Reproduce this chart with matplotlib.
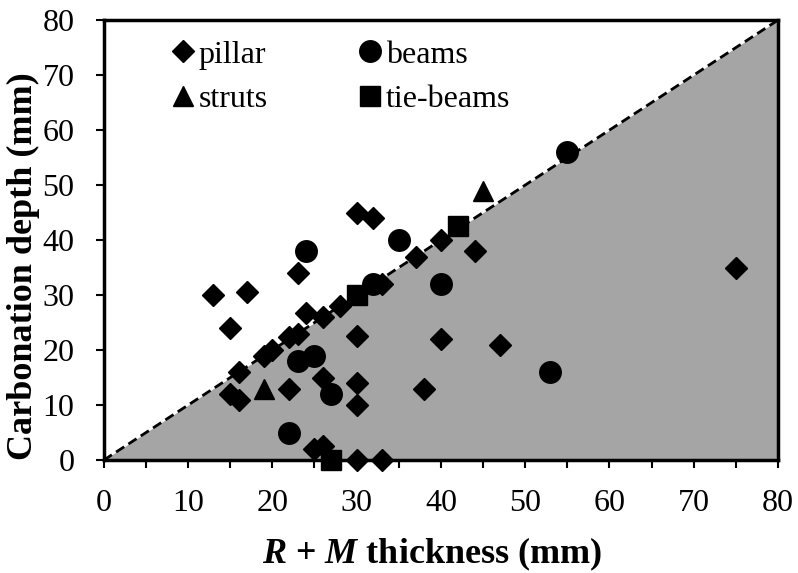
import matplotlib
matplotlib.use("Agg")
import matplotlib.pyplot as plt
from matplotlib.ticker import MultipleLocator

plt.rcParams['font.family'] = ['Liberation Serif', 'DejaVu Serif']
plt.rcParams['mathtext.fontset'] = 'custom'
plt.rcParams['mathtext.it'] = 'Liberation Serif:bold:italic'
plt.rcParams['mathtext.rm'] = 'Liberation Serif:bold'
plt.rcParams['mathtext.bf'] = 'Liberation Serif:bold'

pillar_x = [13, 15, 17, 16, 19, 20, 15, 16, 23, 24, 26, 28, 22, 23, 30, 40, 47,
            26, 22, 30, 30, 38, 25, 26, 30, 33, 30, 32, 40, 44, 37, 33, 75]
pillar_y = [30, 24, 30.5, 16, 19, 20, 12, 11, 34, 26.7, 26, 28, 22.4, 23, 22.5, 22, 21,
            15, 13, 14, 10, 13, 2, 2.5, 0, 0, 45, 44, 40, 38, 37, 32, 35]
beams_x = [24, 35, 40, 32, 23, 25, 27, 22, 55, 53]
beams_y = [38, 40, 32, 32, 18, 19, 12, 5, 56, 16]
struts_x = [19, 45]
struts_y = [13, 49]
tie_x = [30, 42, 27]
tie_y = [30, 42.5, 0]

fig = plt.figure(figsize=(7.98, 5.73), dpi=100)
ax = fig.add_axes([0.130, 0.197, 0.845, 0.768])

ax.fill_between([0, 80], [0, 80], 0, color='#a5a5a5', lw=0, zorder=1)
ax.plot([0, 80], [0, 80], color='black', lw=2.0, dashes=(3.5, 1.8), zorder=2)

kw = dict(color='black', linestyle='none', zorder=3, clip_on=False)
h_p, = ax.plot(pillar_x, pillar_y, marker='D', ms=11, label='pillar', **kw)
h_b, = ax.plot(beams_x, beams_y, marker='o', ms=15.5, label='beams', **kw)
h_s, = ax.plot(struts_x, struts_y, marker='^', ms=15, label='struts', **kw)
h_t, = ax.plot(tie_x, tie_y, marker='s', ms=14, label='tie-beams', **kw)

ax.set_xlim(0, 80)
ax.set_ylim(0, 80)
ax.xaxis.set_major_locator(MultipleLocator(10))
ax.xaxis.set_minor_locator(MultipleLocator(5))
ax.yaxis.set_major_locator(MultipleLocator(10))
ax.tick_params(axis='both', which='both', direction='out', length=6, width=1.5,
               labelsize=23)
ax.tick_params(axis='x', which='both', pad=15)
ax.tick_params(axis='y', which='both', pad=15)
for s in ax.spines.values():
    s.set_linewidth(2.5)

ax.set_xlabel(r'$R$ + $M$ thickness (mm)', fontsize=26, fontweight='bold')
ax.set_ylabel('Carbonation depth (mm)', fontsize=26, fontweight='bold')
ax.xaxis.set_label_coords(0.487, -0.172)
ax.yaxis.set_label_coords(-0.094, 0.44)

leg = ax.legend([h_p, h_s, h_b, h_t], ['pillar', 'struts', 'beams', 'tie-beams'],
                ncol=2, loc='upper left', bbox_to_anchor=(0.098, 0.954), frameon=False,
                fontsize=23, handletextpad=0.1, columnspacing=2.8, labelspacing=0.47,
                handlelength=0.8, borderpad=0, borderaxespad=0, markerscale=1.0)

fig.savefig('out.png', dpi=100)
